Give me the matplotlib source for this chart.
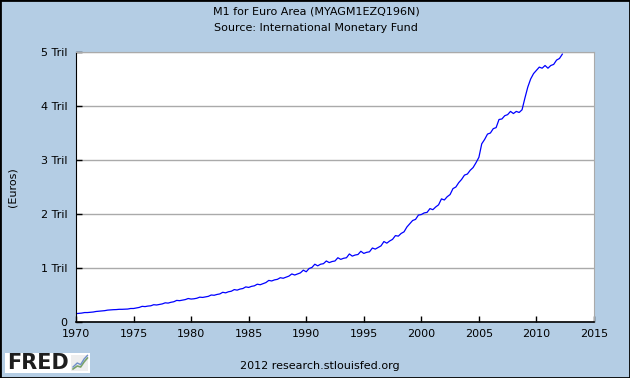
import numpy as np
import pandas as pd
import matplotlib
matplotlib.use('Agg')
import matplotlib.pyplot as plt
import matplotlib.dates as mdates
from matplotlib.ticker import FuncFormatter, FixedLocator

# Quarterly M1 for Euro Area, trillions of euros
m1_by_year = {
    1970: [0.155, 0.160, 0.165, 0.175],
    1971: [0.175, 0.180, 0.185, 0.195],
    1972: [0.200, 0.205, 0.210, 0.220],
    1973: [0.225, 0.228, 0.230, 0.235],
    1974: [0.235, 0.238, 0.240, 0.250],
    1975: [0.250, 0.260, 0.270, 0.290],
    1976: [0.285, 0.295, 0.300, 0.320],
    1977: [0.315, 0.325, 0.335, 0.355],
    1978: [0.350, 0.365, 0.375, 0.400],
    1979: [0.395, 0.405, 0.415, 0.435],
    1980: [0.425, 0.430, 0.440, 0.460],
    1981: [0.455, 0.465, 0.475, 0.500],
    1982: [0.495, 0.510, 0.520, 0.550],
    1983: [0.540, 0.560, 0.570, 0.600],
    1984: [0.590, 0.610, 0.620, 0.650],
    1985: [0.640, 0.660, 0.670, 0.700],
    1986: [0.690, 0.710, 0.730, 0.770],
    1987: [0.760, 0.780, 0.790, 0.820],
    1988: [0.810, 0.830, 0.850, 0.890],
    1989: [0.870, 0.890, 0.910, 0.960],
    1990: [0.930, 0.990, 1.010, 1.070],
    1991: [1.040, 1.070, 1.080, 1.130],
    1992: [1.100, 1.120, 1.130, 1.190],
    1993: [1.160, 1.180, 1.190, 1.260],
    1994: [1.220, 1.240, 1.250, 1.310],
    1995: [1.270, 1.290, 1.300, 1.370],
    1996: [1.350, 1.380, 1.410, 1.490],
    1997: [1.460, 1.500, 1.530, 1.600],
    1998: [1.590, 1.640, 1.670, 1.760],
    1999: [1.820, 1.880, 1.900, 1.980],
    2000: [1.990, 2.020, 2.030, 2.100],
    2001: [2.080, 2.130, 2.170, 2.280],
    2002: [2.260, 2.320, 2.360, 2.470],
    2003: [2.500, 2.580, 2.640, 2.720],
    2004: [2.740, 2.810, 2.860, 2.950],
    2005: [3.050, 3.300, 3.380, 3.480],
    2006: [3.500, 3.580, 3.600, 3.750],
    2007: [3.760, 3.820, 3.840, 3.900],
    2008: [3.860, 3.900, 3.880, 3.930],
    2009: [4.150, 4.350, 4.500, 4.600],
    2010: [4.660, 4.720, 4.700, 4.750],
    2011: [4.700, 4.750, 4.770, 4.850],
    2012: [4.880, 4.960],
}
m1_values = [v for yr in sorted(m1_by_year) for v in m1_by_year[yr]]
dates = pd.date_range('1970-01-01', periods=len(m1_values), freq='QS')

y_ticks = [0, 1, 2, 3, 4, 5]
x_tick_years = [1970, 1975, 1980, 1985, 1990, 1995, 2000, 2005, 2010, 2015]

bg = '#b4cde4'
fig = plt.figure(figsize=(6.3, 3.78), dpi=100, facecolor=bg)
plt.rcParams['font.family'] = ['DejaVu Sans']

ax = fig.add_axes([76 / 630, 1 - 322 / 378, 518 / 630, 270 / 378])
ax.set_facecolor('white')
ax.plot(dates, m1_values, color='#0000ff', linewidth=0.9)

ax.set_xlim(pd.Timestamp('1970-01-01'), pd.Timestamp('2015-01-01'))
ax.set_ylim(0, 5)
ax.xaxis.set_major_locator(FixedLocator([mdates.date2num(pd.Timestamp(f'{y}-01-01')) for y in x_tick_years]))
ax.xaxis.set_major_formatter(FuncFormatter(lambda v, p: str(mdates.num2date(v).year)))
ax.yaxis.set_major_locator(FixedLocator(y_ticks))
ax.yaxis.set_major_formatter(FuncFormatter(lambda v, p: '0' if v == 0 else f'{int(v)} Tril'))

ax.grid(axis='y', color='#aaaaaa', linewidth=1.0)
ax.set_axisbelow(True)
ax.tick_params(direction='in', length=4, width=1, colors='black', labelsize=8, pad=5)
ax.tick_params(axis='y', pad=6)
for s in ['top', 'right']:
    ax.spines[s].set_color('#aaaaaa')
ax.spines['left'].set_color('black')
ax.spines['bottom'].set_color('black')
ax.spines['bottom'].set_linewidth(1.2)

fig.text(316 / 630, 1 - 12 / 378, 'M1 for Euro Area (MYAGM1EZQ196N)', ha='center', va='center', fontsize=8)
fig.text(316 / 630, 1 - 28 / 378, 'Source: International Monetary Fund', ha='center', va='center', fontsize=8)
fig.text(13 / 630, 1 - 187 / 378, '(Euros)', rotation=90, ha='center', va='center', fontsize=8)
fig.text(320 / 630, 1 - 366 / 378, '2012 research.stlouisfed.org', ha='center', va='center', fontsize=8)

# FRED logo
logo = fig.add_axes([5 / 630, 1 - 373 / 378, 85 / 630, 20 / 378])
logo.set_facecolor('white')
logo.set_xlim(0, 1)
logo.set_ylim(0, 1)
logo.set_xticks([])
logo.set_yticks([])
for s in logo.spines.values():
    s.set_visible(False)
logo.text(0.02, 0.48, 'FRED', fontsize=15, fontweight='bold', color='#1e1e1e', ha='left', va='center')
logo.add_patch(plt.Rectangle((0.78, 0.08), 0.2, 0.84, facecolor='#eeeeee', edgecolor='none'))
logo.plot([0.8, 0.85, 0.89, 0.93, 0.97], [0.2, 0.35, 0.3, 0.55, 0.75], color='#7aa36a', linewidth=1.2)
logo.plot([0.8, 0.85, 0.89, 0.93, 0.97], [0.3, 0.5, 0.42, 0.7, 0.88], color='#6f8fc8', linewidth=1.0)

# outer border
fig.patches.append(plt.Rectangle((0, 0), 1, 1, transform=fig.transFigure, fill=False,
                                 edgecolor='black', linewidth=2))

fig.savefig('out.png', dpi=100, facecolor=bg)
